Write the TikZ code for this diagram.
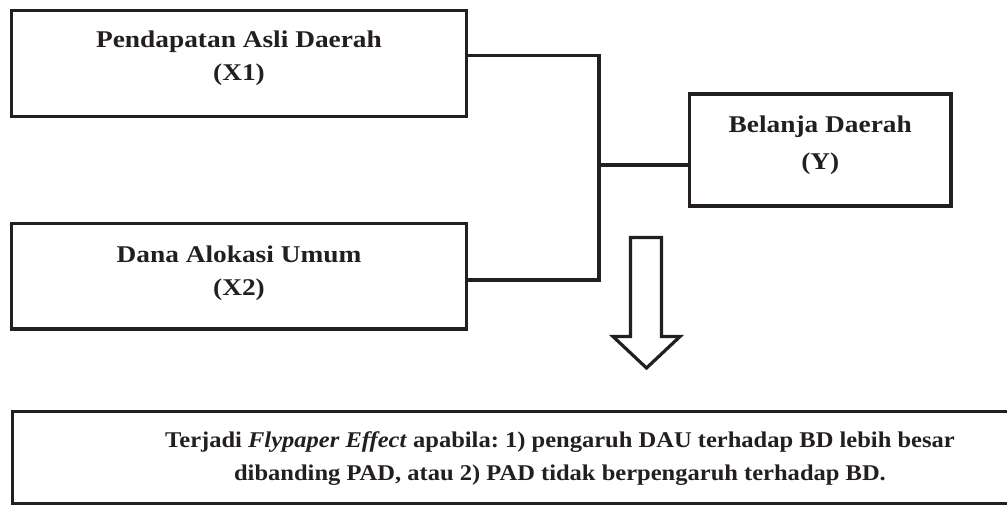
\documentclass[tikz,border=0pt]{standalone}
\usepackage{fontspec}
\setmainfont{Liberation Serif}
\newfontfamily\boxfont[FakeStretch=1.14]{Liberation Serif}
\newfontfamily\botfont[FakeStretch=1.09]{Liberation Serif}
\definecolor{ink}{RGB}{35,31,32}
\frenchspacing
\begin{document}
\begin{tikzpicture}[x=1pt,y=-1pt,
  box/.style={draw=ink,line width=3.2pt,inner sep=0pt,outer sep=0pt,line join=miter},
  conn/.style={draw=ink,line width=3.2pt,line join=miter},
  lbl/.style={anchor=base,text=ink,inner sep=0pt,font=\boxfont\bfseries\fontsize{24}{28}\selectfont},
  blbl/.style={anchor=base,text=ink,inner sep=0pt,font=\botfont\bfseries\fontsize{22.5}{27}\selectfont}]
\useasboundingbox (0,0) rectangle (1007,504);
\clip (0,0) rectangle (1007,504);
% boxes
\node[box,minimum width=455pt,minimum height=106pt] (x1) at (239,63.5) {};
\node[box,minimum width=455pt,minimum height=105.5pt] (x2) at (239,276.25) {};
\node[box,minimum width=261.5pt,minimum height=112pt] (y) at (820.25,150) {};
\node[box,minimum width=1002.5pt,minimum height=92pt] (res) at (513.75,457.5) {};
% labels
\node[lbl] (x1a) at (239,47) {Pendapatan Asli Daerah};
\node[lbl] (x1b) at (239,80) {(X1)};
\node[lbl] (x2a) at (239,262) {Dana Alokasi Umum};
\node[lbl] (x2b) at (239,295) {(X2)};
\node[lbl] (ya) at (820.25,132) {Belanja Daerah};
\node[lbl] (yb) at (820.25,169.5) {(Y)};
\node[blbl] (ra) at (560,447) {Terjadi \textit{Flypaper Effect} apabila: 1) pengaruh DAU terhadap BD lebih besar};
\node[blbl] (rb) at (560,480) {dibanding PAD, atau 2) PAD tidak berpengaruh terhadap BD.};
% connectors
\coordinate (j1) at (599,55.5);
\coordinate (j2) at (599,280);
\coordinate (j3) at (599,165);
\draw[conn] (x1.east |- j1) -- (j1) -- (j2) -- (x2.east |- j2);
\draw[conn] (j3) -- (y.west |- j3);
% hollow arrow
\draw[conn,fill=white] (630.5,237.5) -- (661.5,237.5) -- (661.5,336.5) -- (680,336.5)
  -- (646.5,368) -- (613,336.5) -- (630.5,336.5) -- cycle;
\end{tikzpicture}
\end{document}
